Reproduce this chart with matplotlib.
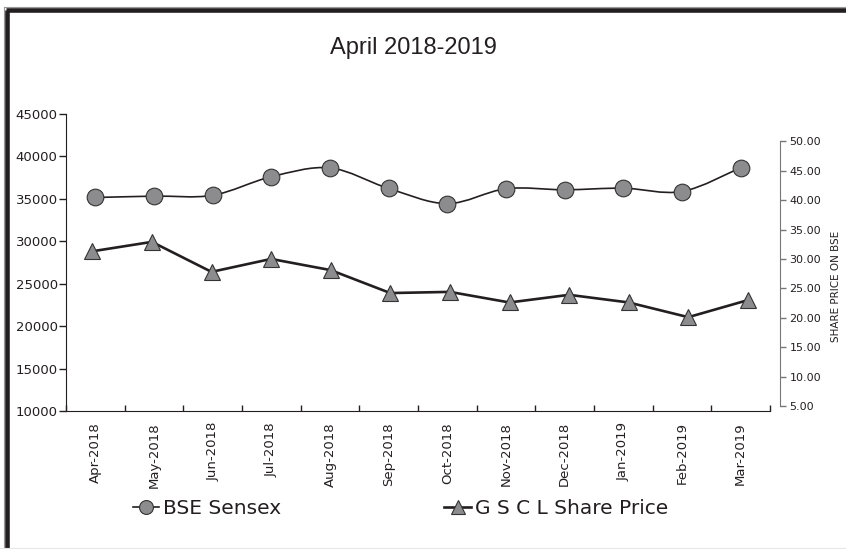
import matplotlib
matplotlib.use("Agg")
import matplotlib.pyplot as plt
from matplotlib.path import Path
from matplotlib.patches import PathPatch
from matplotlib.lines import Line2D

plt.rcParams['font.family'] = ['DejaVu Sans']

months = ['Apr-2018', 'May-2018', 'Jun-2018', 'Jul-2018', 'Aug-2018', 'Sep-2018',
          'Oct-2018', 'Nov-2018', 'Dec-2018', 'Jan-2019', 'Feb-2019', 'Mar-2019']
sensex = [35160, 35322, 35423, 37607, 38645, 36227, 34442, 36194, 36068, 36257, 35867, 38673]
gscl = [31.3, 32.9, 27.8, 30.0, 28.1, 24.2, 24.4, 22.6, 23.9, 22.6, 20.1, 23.0]

dark = '#231f20'
gray_face = '#8c8c8e'

W, H = 846, 549
fig = plt.figure(figsize=(W / 100, H / 100), dpi=100)
rect = [66 / W, 1 - 411 / H, 704 / W, 297 / H]

# main axis: BSE Sensex
ax = fig.add_axes(rect)
x = list(range(len(months)))
ax.set_xlim(-0.5, 11.5)
ax.set_ylim(10000, 45000)

# smoothed line (catmull-rom as bezier segments)
verts = [(x[0], sensex[0])]
codes = [Path.MOVETO]
n = len(x)
for i in range(n - 1):
    p0 = (x[max(i - 1, 0)], sensex[max(i - 1, 0)])
    p1 = (x[i], sensex[i])
    p2 = (x[i + 1], sensex[i + 1])
    p3 = (x[min(i + 2, n - 1)], sensex[min(i + 2, n - 1)])
    c1 = (p1[0] + (p2[0] - p0[0]) / 6, p1[1] + (p2[1] - p0[1]) / 6)
    c2 = (p2[0] - (p3[0] - p1[0]) / 6, p2[1] - (p3[1] - p1[1]) / 6)
    verts += [c1, c2, p2]
    codes += [Path.CURVE4] * 3
ax.add_patch(PathPatch(Path(verts, codes), fill=False, edgecolor=dark, lw=1.2, zorder=2))
ax.plot(x, sensex, linestyle='none', marker='o', ms=12, mfc=gray_face, mec='#333333',
        mew=0.8, zorder=3)

for s in ['top', 'right']:
    ax.spines[s].set_visible(False)
ax.spines['left'].set_color(dark)
ax.spines['bottom'].set_color(dark)
ax.set_yticks(range(10000, 45001, 5000))
ax.set_yticklabels([str(v) for v in range(10000, 45001, 5000)], fontsize=9.5, color=dark)
ax.tick_params(axis='y', direction='out', length=5, width=1, color=dark, pad=1)
ax.set_xticks(x)
ax.set_xticklabels(months, rotation=90, fontsize=9.5, color=dark)
ax.set_xticks([i + 0.5 for i in range(-1, 12)], minor=True)
ax.tick_params(axis='x', which='major', length=0, pad=8)
ax.tick_params(axis='x', which='minor', direction='in', length=4, width=1, color=dark)

# secondary axis: share price
ax3 = fig.add_axes(rect, label='share')
ax3.patch.set_visible(False)
ax3.set_xlim((66 - 92.3) / 59.6, (770 - 92.3) / 59.6)
ax3.set_ylim(4.15, 54.64)
ax3.plot(range(len(gscl)), gscl, color=dark, lw=1.9, marker='^', ms=11.5,
         mfc=gray_face, mec='#333333', mew=0.8, zorder=3)
for s in ['top', 'left', 'bottom']:
    ax3.spines[s].set_visible(False)
ax3.spines['right'].set_position(('outward', 7))
ax3.spines['right'].set_bounds(5, 50)
ax3.spines['right'].set_color('#777777')
ax3.xaxis.set_visible(False)
ax3.yaxis.tick_right()
ax3.set_yticks([5 * k for k in range(1, 11)])
ax3.set_yticklabels(['%.2f' % (5 * k) for k in range(1, 11)], fontsize=8, color=dark)
ax3.tick_params(axis='y', direction='out', length=4, width=1, color='#777777', pad=3)

fig.text(836 / W, 1 - 286 / H, 'SHARE PRICE ON BSE', rotation=90, ha='center', va='center',
         fontsize=7.5, color=dark)

fig.text(413.5 / W, 1 - 48 / H, 'April 2018-2019', ha='center', va='center',
         fontsize=17, color=dark, family=['Liberation Sans', 'DejaVu Sans'])

handles = [
    Line2D([], [], color=dark, lw=1.2, marker='o', ms=10, mfc=gray_face, mec='#333333', mew=0.8),
    Line2D([], [], color=dark, lw=1.9, marker='^', ms=10, mfc=gray_face, mec='#333333', mew=0.8),
]
fig.legend(handles, ['BSE Sensex', 'G S C L Share Price'], ncol=2, frameon=False,
           loc='center left', bbox_to_anchor=(133 / W, 1 - 509 / H), borderpad=0,
           borderaxespad=0, handlelength=1.3, handletextpad=0.2, columnspacing=8.1,
           prop={'size': 14.5}, labelcolor=dark)

# page frame
fig.add_artist(Line2D([4 / W, 4 / W], [0, 1 - 6.5 / H], color='#999999', lw=0.8))
fig.add_artist(Line2D([4 / W, 1], [1 - 6.5 / H, 1 - 6.5 / H], color='#999999', lw=0.8))
fig.add_artist(Line2D([7 / W, 7 / W], [0, 1 - 9.5 / H], color=dark, lw=3.3, solid_capstyle='butt'))
fig.add_artist(Line2D([5.5 / W, 1], [1 - 9.5 / H, 1 - 9.5 / H], color=dark, lw=3.3, solid_capstyle='butt'))
fig.add_artist(Line2D([0, 1], [1 - 547.5 / H, 1 - 547.5 / H], color='#e6e6e6', lw=0.8))

fig.savefig('out.png', dpi=100)
